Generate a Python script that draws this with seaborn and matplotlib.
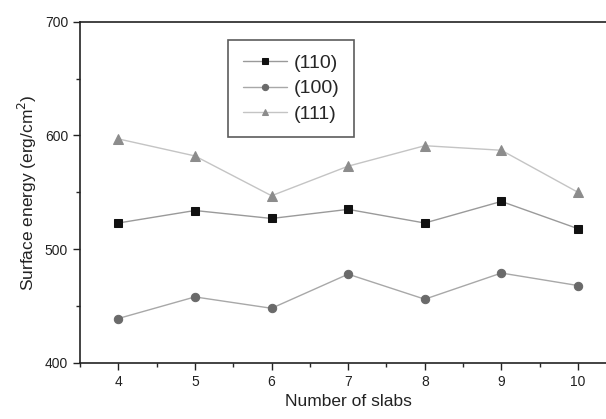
import pandas as pd
import matplotlib
matplotlib.use('Agg')
from matplotlib import pyplot as plt
from matplotlib.ticker import MultipleLocator
import seaborn as sns

slabs = [4, 5, 6, 7, 8, 9, 10]
e110 = [523, 534, 527, 535, 523, 542, 518]
e100 = [439, 458, 448, 478, 456, 479, 468]
e111 = [597, 582, 547, 573, 591, 587, 550]

sns.set_style("ticks")
plt.rcParams['font.family'] = ['Liberation Sans', 'DejaVu Sans']

fig = plt.figure(figsize=(6.06, 4.19), dpi=100)
ax = fig.add_axes([0.132, 0.134, 0.885, 0.814])

# line colour, marker face colour, marker
series = [
    ('(110)', e110, '#9a9a9a', '#111111', 's', 5.5),
    ('(100)', e100, '#a8a8a8', '#6a6a6a', 'o', 6),
    ('(111)', e111, '#c4c4c4', '#8c8c8c', '^', 6.5),
]
for name, vals, lc, mc, mk, ms in series:
    df = pd.DataFrame({'slabs': slabs, 'energy': vals})
    sns.lineplot(data=df, x='slabs', y='energy', ax=ax, color=lc, lw=1.0,
                 marker=mk, markersize=ms, markerfacecolor=mc,
                 markeredgecolor=mc, label=name)

ax.set_xlim(3.5, 10.5)
ax.set_ylim(400, 700)
ax.set_xticks(slabs)
ax.xaxis.set_minor_locator(MultipleLocator(0.5))
ax.set_yticks([400, 500, 600, 700])
ax.yaxis.set_minor_locator(MultipleLocator(50))
ax.tick_params(which='major', direction='out', length=5, width=1, labelsize=10, colors='#222222')
ax.tick_params(which='minor', direction='out', length=3, width=1)
for s in ax.spines.values():
    s.set_color('#222222')
    s.set_linewidth(1.2)

ax.set_xlabel('Number of slabs', fontsize=12.5, color='#222222')
ax.set_ylabel('Surface energy (erg/cm$^2$)', fontsize=12.5, color='#222222')

leg = ax.legend(loc='upper left', bbox_to_anchor=(0.276, 0.947), borderaxespad=0,
                fontsize=14, frameon=True, fancybox=False, handlelength=2.3,
                markerscale=0.75, borderpad=0.75, labelspacing=0.4,
                handletextpad=0.35)
leg.get_frame().set_edgecolor('#333333')
leg.get_frame().set_linewidth(1.2)

fig.savefig('out.png', dpi=100)
